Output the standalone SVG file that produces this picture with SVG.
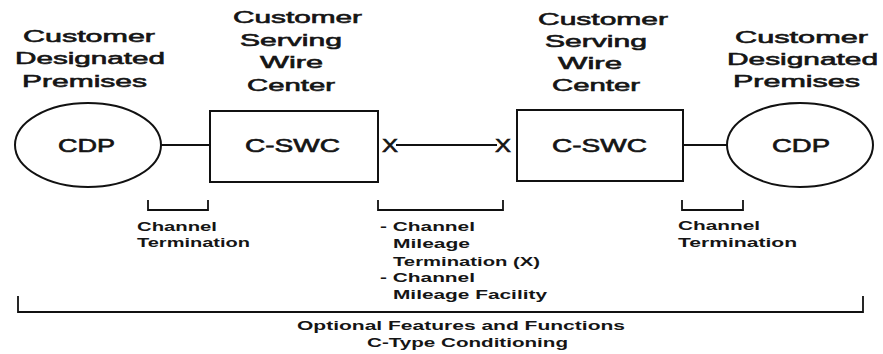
<svg xmlns="http://www.w3.org/2000/svg" width="883" height="354" viewBox="0 0 883 354">
<style>
.shape{fill:none;stroke:#111;stroke-width:2}
.ln{fill:none;stroke:#111;stroke-width:1.8}
.big{font-family:"Liberation Sans",Arial,sans-serif;font-size:17px;fill:#151515;stroke:#151515;stroke-width:0.6}
.box{font-family:"Liberation Sans",Arial,sans-serif;font-size:18px;fill:#151515;stroke:#151515;stroke-width:0.6}
.sm{font-family:"Liberation Sans",Arial,sans-serif;font-size:12px;font-weight:bold;fill:#151515}
</style>
<rect width="883" height="354" fill="#fff"/>
<g id="label-cdp-left">
<text class="big" x="23" y="42" textLength="132" lengthAdjust="spacingAndGlyphs">Customer</text>
<text class="big" x="15" y="64" textLength="150" lengthAdjust="spacingAndGlyphs">Designated</text>
<text class="big" x="22" y="87" textLength="125" lengthAdjust="spacingAndGlyphs">Premises</text>
</g>
<g id="label-cswc-left">
<text class="big" x="233" y="23" textLength="129" lengthAdjust="spacingAndGlyphs">Customer</text>
<text class="big" x="240" y="46" textLength="102" lengthAdjust="spacingAndGlyphs">Serving</text>
<text class="big" x="260" y="68" textLength="63" lengthAdjust="spacingAndGlyphs">Wire</text>
<text class="big" x="247" y="91" textLength="88" lengthAdjust="spacingAndGlyphs">Center</text>
</g>
<g id="label-cswc-right">
<text class="big" x="538" y="25" textLength="130" lengthAdjust="spacingAndGlyphs">Customer</text>
<text class="big" x="545" y="47" textLength="102" lengthAdjust="spacingAndGlyphs">Serving</text>
<text class="big" x="558" y="69" textLength="64" lengthAdjust="spacingAndGlyphs">Wire</text>
<text class="big" x="552" y="91" textLength="88" lengthAdjust="spacingAndGlyphs">Center</text>
</g>
<g id="label-cdp-right">
<text class="big" x="735" y="43" textLength="133" lengthAdjust="spacingAndGlyphs">Customer</text>
<text class="big" x="727" y="65" textLength="151" lengthAdjust="spacingAndGlyphs">Designated</text>
<text class="big" x="733" y="87" textLength="127" lengthAdjust="spacingAndGlyphs">Premises</text>
</g>
<g id="connectors">
<line class="ln" x1="161" y1="145" x2="210" y2="145"/>
<line class="ln" x1="396" y1="145" x2="497" y2="145"/>
<line class="ln" x1="683" y1="145" x2="727" y2="145"/>
</g>
<g id="cdp-left">
<ellipse class="shape" cx="88" cy="145" rx="73" ry="42"/>
<text class="box" x="58" y="152" textLength="57" lengthAdjust="spacingAndGlyphs">CDP</text>
</g>
<g id="cswc-left">
<rect class="shape" x="210" y="111" width="168" height="71"/>
<text class="box" x="245" y="152" textLength="95" lengthAdjust="spacingAndGlyphs">C-SWC</text>
</g>
<g id="x-left">
<text class="box" x="382" y="152" font-size="17" textLength="16" lengthAdjust="spacingAndGlyphs">X</text>
</g>
<g id="x-right">
<text class="box" x="495" y="152" font-size="17" textLength="16" lengthAdjust="spacingAndGlyphs">X</text>
</g>
<g id="cswc-right">
<rect class="shape" x="517" y="110" width="166" height="71"/>
<text class="box" x="552" y="152" textLength="95" lengthAdjust="spacingAndGlyphs">C-SWC</text>
</g>
<g id="cdp-right">
<ellipse class="shape" cx="800" cy="145" rx="73" ry="42"/>
<text class="box" x="772" y="152" textLength="58" lengthAdjust="spacingAndGlyphs">CDP</text>
</g>
<g id="brackets">
<path class="ln" d="M148,200 V210 H208 V200"/>
<path class="ln" d="M378,200 V210 H503 V200"/>
<path class="ln" d="M682,200 V210 H743 V200"/>
<path class="ln" d="M18,296 V312 H863 V296"/>
</g>
<g id="note-ct-left">
<text class="sm" x="137" y="231" textLength="80" lengthAdjust="spacingAndGlyphs">Channel</text>
<text class="sm" x="137" y="247" textLength="113" lengthAdjust="spacingAndGlyphs">Termination</text>
</g>
<g id="note-mileage">
<text class="sm" x="380" y="231" textLength="95" lengthAdjust="spacingAndGlyphs">- Channel</text>
<text class="sm" x="393" y="248" textLength="77" lengthAdjust="spacingAndGlyphs">Mileage</text>
<text class="sm" x="393" y="266" textLength="147" lengthAdjust="spacingAndGlyphs">Termination (X)</text>
<text class="sm" x="380" y="282" textLength="95" lengthAdjust="spacingAndGlyphs">- Channel</text>
<text class="sm" x="393" y="299" textLength="154" lengthAdjust="spacingAndGlyphs">Mileage Facility</text>
</g>
<g id="note-ct-right">
<text class="sm" x="678" y="230" textLength="82" lengthAdjust="spacingAndGlyphs">Channel</text>
<text class="sm" x="678" y="247" textLength="119" lengthAdjust="spacingAndGlyphs">Termination</text>
</g>
<g id="note-optional">
<text class="sm" x="297" y="330" textLength="328" lengthAdjust="spacingAndGlyphs">Optional Features and Functions</text>
<text class="sm" x="367" y="347" textLength="201" lengthAdjust="spacingAndGlyphs">C-Type Conditioning</text>
</g>
</svg>
